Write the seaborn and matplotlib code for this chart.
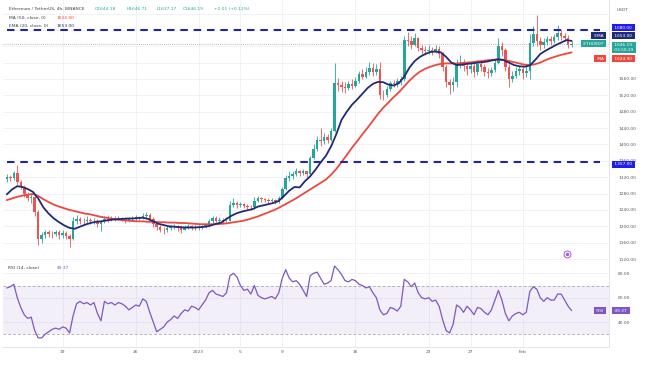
import numpy as np
import pandas as pd
import seaborn as sns
import matplotlib.dates as mdates
from matplotlib import pyplot as plt

# свечи ETH/USDT по 8 часов, начиная с 13.12.2022 16:00
first_open = 1315
closes = [1320, 1318, 1330, 1308, 1296, 1280, 1268, 1272, 1235, 1168,
          1178, 1185, 1182, 1180, 1186, 1178, 1184, 1176, 1168, 1212,
          1218, 1214, 1212, 1216, 1212, 1214, 1206, 1212, 1218, 1216,
          1220, 1218, 1220, 1217, 1215, 1218, 1218, 1222, 1220, 1226,
          1228, 1218, 1205, 1198, 1192, 1190, 1195, 1198, 1200, 1196,
          1192, 1198, 1200, 1198, 1196, 1198, 1200, 1202, 1212, 1220,
          1214, 1216, 1212, 1214, 1252, 1258, 1252, 1255, 1250, 1248,
          1246, 1262, 1268, 1266, 1264, 1262, 1264, 1260, 1268, 1290,
          1318, 1322, 1328, 1334, 1330, 1334, 1328, 1368, 1390, 1412,
          1408, 1418, 1412, 1432, 1550, 1546, 1540, 1538, 1548, 1544,
          1556, 1572, 1566, 1578, 1588, 1576, 1584, 1522, 1520, 1536,
          1550, 1548, 1554, 1560, 1656, 1654, 1642, 1660, 1636, 1630,
          1628, 1632, 1626, 1634, 1620, 1590, 1552, 1546, 1552, 1598,
          1600, 1592, 1584, 1592, 1578, 1596, 1590, 1576, 1574, 1582,
          1600, 1640, 1630, 1590, 1560, 1568, 1580, 1584, 1574, 1580,
          1648, 1670, 1652, 1644, 1650, 1658, 1654, 1662, 1672, 1664,
          1660, 1644, 1646.19]
highs = [1328, 1326, 1336, 1350, 1312, 1300, 1284, 1280, 1276, 1240,
         1186, 1192, 1190, 1188, 1192, 1190, 1190, 1188, 1180, 1222,
         1228, 1222, 1220, 1224, 1220, 1220, 1218, 1216, 1224, 1228,
         1226, 1224, 1224, 1222, 1220, 1222, 1224, 1228, 1226, 1232,
         1236, 1232, 1222, 1208, 1204, 1198, 1200, 1204, 1206, 1204,
         1200, 1202, 1206, 1204, 1202, 1202, 1204, 1206, 1218, 1226,
         1224, 1222, 1220, 1222, 1262, 1270, 1262, 1260, 1258, 1254,
         1252, 1272, 1274, 1272, 1270, 1268, 1268, 1266, 1274, 1296,
         1325, 1336, 1334, 1342, 1338, 1340, 1336, 1372, 1402, 1420,
         1440, 1428, 1426, 1440, 1598, 1562, 1556, 1552, 1556, 1560,
         1566, 1580, 1584, 1590, 1602, 1598, 1596, 1602, 1534, 1544,
         1556, 1558, 1562, 1568, 1665, 1676, 1664, 1672, 1662, 1644,
         1640, 1642, 1638, 1644, 1640, 1626, 1594, 1560, 1566, 1608,
         1618, 1608, 1600, 1602, 1598, 1606, 1604, 1596, 1586, 1590,
         1610, 1660, 1650, 1636, 1596, 1580, 1590, 1592, 1590, 1596,
         1670, 1690, 1716, 1662, 1660, 1666, 1664, 1670, 1692, 1680,
         1672, 1668, 1652]
lows = [1308, 1310, 1314, 1300, 1290, 1272, 1262, 1258, 1225, 1155,
        1160, 1172, 1174, 1172, 1176, 1170, 1172, 1168, 1150, 1166,
        1206, 1205, 1204, 1208, 1205, 1206, 1198, 1188, 1208, 1210,
        1212, 1214, 1215, 1213, 1208, 1210, 1212, 1214, 1215, 1218,
        1220, 1212, 1198, 1190, 1186, 1180, 1185, 1190, 1194, 1188,
        1184, 1190, 1194, 1192, 1190, 1192, 1194, 1196, 1198, 1208,
        1210, 1208, 1206, 1208, 1212, 1246, 1244, 1246, 1244, 1240,
        1240, 1242, 1260, 1260, 1260, 1258, 1256, 1255, 1258, 1266,
        1288, 1310, 1316, 1324, 1324, 1326, 1320, 1326, 1364, 1384,
        1395, 1400, 1404, 1408, 1430, 1530, 1528, 1526, 1532, 1536,
        1540, 1550, 1560, 1562, 1570, 1568, 1570, 1512, 1508, 1516,
        1530, 1540, 1540, 1546, 1556, 1640, 1634, 1640, 1628, 1620,
        1618, 1620, 1618, 1624, 1612, 1580, 1540, 1524, 1530, 1540,
        1588, 1580, 1570, 1574, 1566, 1570, 1580, 1568, 1562, 1568,
        1576, 1596, 1616, 1580, 1540, 1552, 1562, 1570, 1560, 1566,
        1560, 1640, 1640, 1632, 1636, 1644, 1644, 1648, 1656, 1656,
        1652, 1636, 1637]

# EMA(20) и MA(50), шаг 12 часов с того же момента
ema20 = [1278, 1290, 1298, 1296, 1291, 1284, 1268, 1246, 1231, 1219,
         1210, 1202, 1196, 1194, 1199, 1204, 1208, 1211, 1212, 1214,
         1216, 1217, 1218, 1219, 1219, 1220, 1221, 1218, 1212, 1206,
         1203, 1200, 1199, 1198, 1197, 1197, 1197, 1198, 1199, 1202,
         1206, 1209, 1218, 1226, 1232, 1236, 1239, 1242, 1248, 1251,
         1254, 1257, 1262, 1274, 1287, 1296, 1295, 1310, 1322, 1338,
         1356, 1372, 1395, 1425, 1460, 1480, 1497, 1510, 1524, 1538,
         1548, 1553, 1552, 1546, 1544, 1550, 1566, 1588, 1604, 1614,
         1621, 1626, 1627, 1625, 1614, 1600, 1594, 1595, 1597, 1598,
         1600, 1601, 1603, 1606, 1608, 1606, 1600, 1594, 1591, 1590,
         1593, 1606, 1621, 1629, 1636, 1643, 1649, 1655, 1653]
ma50 = [1264, 1268, 1272, 1275, 1277, 1279, 1274, 1266, 1259, 1253,
        1248, 1244, 1240, 1237, 1234, 1231, 1229, 1226, 1223, 1221,
        1219, 1217, 1215, 1214, 1213, 1212, 1212, 1211, 1211, 1210,
        1210, 1209, 1209, 1208, 1208, 1207, 1206, 1205, 1205, 1205,
        1205, 1206, 1207, 1209, 1211, 1213, 1216, 1220, 1224, 1229,
        1234, 1239, 1245, 1252, 1259, 1266, 1274, 1282, 1290, 1298,
        1306, 1314, 1326, 1340, 1357, 1374, 1392, 1408, 1425, 1441,
        1458, 1475, 1490, 1503, 1516, 1528, 1542, 1556, 1568, 1578,
        1585, 1590, 1594, 1597, 1598, 1598, 1598, 1599, 1600, 1601,
        1603, 1604, 1606, 1607, 1608, 1607, 1604, 1601, 1598, 1595,
        1594, 1596, 1600, 1606, 1611, 1615, 1619, 1622, 1625]

# RSI(14), шаг 8 часов
rsi = [68, 69, 71, 60, 52, 46, 43, 44, 33, 27,
       27, 30, 32, 34, 35, 34, 36, 35, 31, 45,
       55, 57, 55, 56, 54, 56, 47, 41, 57, 55,
       56, 54, 56, 55, 53, 50, 52, 54, 53, 59,
       57, 48, 40, 32, 34, 36, 40, 42, 45, 43,
       47, 50, 49, 53, 52, 50, 54, 58, 64, 66,
       63, 62, 61, 64, 78, 80, 77, 70, 66, 67,
       63, 70, 62, 60, 59, 60, 61, 59, 64, 76,
       83, 76, 73, 74, 71, 66, 61, 78, 80, 81,
       76, 71, 72, 74, 86, 83, 79, 74, 73, 75,
       74, 71, 70, 68, 69, 64, 60, 50, 46, 47,
       52, 51, 49, 53, 75, 73, 69, 72, 64, 60,
       59, 60, 57, 58, 53, 42, 33, 31, 38, 54,
       52, 48, 53, 50, 46, 52, 51, 48, 46, 50,
       58, 66, 58, 47, 41, 45, 47, 48, 46, 48,
       65, 69, 67, 60, 57, 60, 58, 58, 63, 63,
       58, 53, 49.37]

levels = [1680, 1357]
last_price = 1646.19
ema_last, ma_last, rsi_last = 1653.00, 1624.90, 49.37

date_ticks = ['2022-12-19', '2022-12-26', '2023-01-01', '2023-01-05', '2023-01-09',
              '2023-01-16', '2023-01-23', '2023-01-27', '2023-02-01']
date_labels = ['19', '26', '2023', '5', '9', '16', '23', '27', 'Feb']
price_ticks = list(range(1120, 1721, 40))
rsi_ticks = [40, 60, 80]

up, down = '#26a69a', '#ef5350'
navy, red, blue, dash_blue, purple = '#1f2a78', '#f0473c', '#1e1ee6', '#2323a8', '#7e57c2'
grey_txt = '#555a64'
W, H = 648, 368

sns.set_theme(style='white')
plt.rcParams['font.family'] = ['DejaVu Sans']

t0 = pd.Timestamp('2022-12-13 16:00')
candle_t = mdates.date2num(pd.date_range(t0, periods=len(closes), freq='8h'))
line_t = mdates.date2num(pd.date_range(t0, periods=len(ema20), freq='12h'))

df = pd.DataFrame({'t': candle_t, 'o': [first_open] + closes[:-1],
                   'h': highs, 'l': lows, 'c': closes})
df['col'] = np.where(df.c >= df.o, up, down)

fig = plt.figure(figsize=(6.48, 3.68), dpi=100)
ax = fig.add_axes([3 / W, 1 - 262 / H, 606 / W, 262 / H])
ax_rsi = fig.add_axes([3 / W, 1 - 347 / H, 606 / W, 85 / H], sharex=ax)

# свечи
ax.vlines(df.t, df[['l', 'o', 'c']].min(axis=1), df[['h', 'o', 'c']].max(axis=1),
          colors=df.col, lw=0.6, zorder=2)
ax.bar(df.t, (df.c - df.o).abs().clip(lower=1.5), bottom=df[['o', 'c']].min(axis=1),
       width=0.24, color=df.col, linewidth=0, zorder=2)

# скользящие
sns.lineplot(x=line_t, y=ma50, ax=ax, color=red, linewidth=1.3, zorder=3)
sns.lineplot(x=line_t, y=ema20, ax=ax, color=navy, linewidth=1.3, zorder=3)

# уровни
for lv in levels:
    ax.axhline(lv, xmin=0.007, xmax=0.985, color=dash_blue, lw=1.5, ls=(0, (3.6, 2.8)), zorder=4)
ax.axhline(last_price, color='#9aa3a8', lw=0.6, ls=(0, (1, 1.5)), zorder=1)

# RSI
ax_rsi.axhspan(30, 70, color=purple, alpha=0.09, lw=0)
for v in (70, 30):
    ax_rsi.axhline(v, color='#9598a1', lw=0.5, ls=(0, (4, 3)))
sns.lineplot(x=candle_t, y=rsi, ax=ax_rsi, color=purple, linewidth=0.9)

ax.set_xlim(mdates.date2num(pd.Timestamp('2022-12-13 07:15')),
            mdates.date2num(pd.Timestamp('2023-02-09 05:45')))
ax.set_ylim(1112.7, 1753)
ax_rsi.set_ylim(19.5, 89.3)

ax.set_yticks(price_ticks)
ax.set_yticklabels([f'{v:.2f}' if v <= 1560 else '' for v in price_ticks])
ax_rsi.set_yticks(rsi_ticks)
ax_rsi.set_yticklabels([f'{v:.2f}' for v in rsi_ticks])
ax_rsi.set_xticks(mdates.date2num(pd.to_datetime(date_ticks)))
ax_rsi.set_xticklabels(date_labels)

for a in (ax, ax_rsi):
    a.set_xlabel('')
    a.set_ylabel('')
    a.yaxis.tick_right()
    a.grid(True, color='#eef0f4', lw=0.6)
    a.tick_params(axis='both', length=0, labelsize=3.2, labelcolor=grey_txt)
    a.tick_params(axis='y', pad=6.5)
    a.tick_params(axis='x', pad=2.5)
    for s in ('top', 'left'):
        a.spines[s].set_visible(False)
    for s in ('right', 'bottom'):
        a.spines[s].set_color('#dfe2ea')
        a.spines[s].set_linewidth(0.6)
ax.tick_params(axis='x', labelbottom=False)


def tag(a, y, text, color, dy_px=0, left=False, fs=3.1):
    a.annotate(text, xy=(1, y), xycoords=('axes fraction', 'data'),
               xytext=(-3 if left else 3, dy_px * 0.72), textcoords='offset points',
               ha='right' if left else 'left', va='center', fontsize=fs, color='white',
               linespacing=1.1, annotation_clip=False, zorder=6,
               bbox=dict(boxstyle='square,pad=0.35', fc=color, ec='none'))


tag(ax, levels[0], ' 1680.00 ', blue, 2)
tag(ax, levels[1], ' 1357.00 ', blue, -2.3)
tag(ax, ema_last, ' 1653.00 ', navy, 5.2)
tag(ax, ema_last, ' EMA ', navy, 5.2, left=True)
tag(ax, last_price, f' {last_price:.2f} \n 03:50:19 ', up, -3.8)
tag(ax, last_price, ' ETHUSDT ', up, 0, left=True)
tag(ax, ma_last, f' {ma_last:.2f} ', red, -6.5)
tag(ax, ma_last, ' MA ', red, -6.5, left=True)
tag(ax_rsi, rsi_last, f' {rsi_last:.2f} ', purple, 0)
tag(ax_rsi, rsi_last, ' RSI ', purple, 0, left=True)

# значок оповещения
ax.plot(0.931, 0.031, 'o', transform=ax.transAxes, ms=5, mfc='white', mec='#a35bd0', mew=0.7, clip_on=False)
ax.plot(0.931, 0.031, 'o', transform=ax.transAxes, ms=1.5, color='#a35bd0', clip_on=False)


def ftext(x, y, s, color='#3a3f4a', fs=3.2):
    fig.text(x / W, 1 - y / H, s, fontsize=fs, color=color, va='center', ha='left')


ftext(9, 9, 'Ethereum / TetherUS, 4h, BINANCE')
for x, s in [(95, 'O1644.18'), (127, 'H1646.71'), (157, 'L1637.17'),
             (183, 'C1646.19'), (214, '+2.01 (+0.12%)')]:
    ftext(x, 9, s, up)
ftext(9, 18, 'MA (50, close, 0)')
ftext(57, 18, f'{ma_last:.2f}', red)
ftext(9, 26, 'EMA (20, close, 0)')
ftext(57, 26, f'{ema_last:.2f}', navy)
ftext(8, 268, 'RSI (14, close)')
ftext(57, 268, f'{rsi_last:.2f}', purple)
ftext(617, 10, 'USDT', grey_txt, 3.2)

fig.savefig('out.png', dpi=100)
